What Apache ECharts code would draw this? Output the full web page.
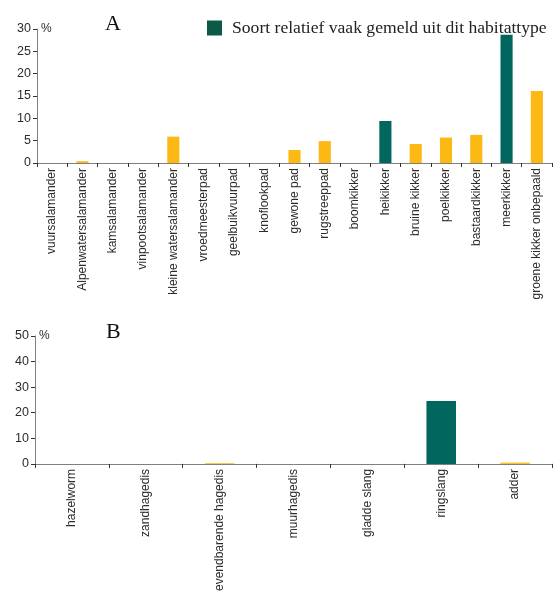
<!DOCTYPE html>
<html>
<head>
<meta charset="utf-8">
<script src="https://cdn.jsdelivr.net/npm/echarts@6/dist/echarts.min.js"></script>
<style>
  html, body { margin: 0; padding: 0; background: #fff; }
  #chart { width: 557px; height: 594px; }
</style>
</head>
<body>
<div id="chart"></div>
<script>
// Panel A: amphibians
const categoriesA = [
  'vuursalamander', 'Alpenwatersalamander', 'kamsalamander', 'vinpootsalamander',
  'kleine watersalamander', 'vroedmeesterpad', 'geelbuikvuurpad', 'knoflookpad',
  'gewone pad', 'rugstreeppad', 'boomkikker', 'heikikker', 'bruine kikker',
  'poelkikker', 'bastaardkikker', 'meerkikker', 'groene kikker onbepaald'
];
const valuesA = [0, 0.4, 0, 0, 5.9, 0, 0, 0, 2.9, 4.9, 0, 9.4, 4.25, 5.7, 6.3, 28.7, 16.1];
const frequentA = ['heikikker', 'meerkikker'];
const ticksA = { min: 0, max: 30, interval: 5 };

// Panel B: reptiles
const categoriesB = [
  'hazelworm', 'zandhagedis', 'evendbarende hagedis', 'muurhagedis',
  'gladde slang', 'ringslang', 'adder'
];
const valuesB = [0, 0, 0.3, 0, 0, 24.6, 0.5];
const frequentB = ['ringslang'];
const ticksB = { min: 0, max: 50, interval: 10 };

const legendLabel = 'Soort relatief vaak gemeld uit dit habitattype';
const otherLabel = 'overig';

const TEAL = '#00665e';
const TEAL_LEGEND = '#0b5a48';
const YELLOW = '#fdb913';
const AXIS = '#7f7f7f';
const TEXT = '#2b2b2b';
const SANS = '"Liberation Sans", Arial, sans-serif';
const SERIF = '"Liberation Serif", "Times New Roman", serif';

function splitSeries(cats, vals, frequent) {
  const freq = cats.map((c, i) => frequent.includes(c) ? vals[i] : '-');
  const rest = cats.map((c, i) => frequent.includes(c) ? '-' : vals[i]);
  return { freq, rest };
}

function xAxisFor(gridIndex, cats) {
  return {
    type: 'category',
    gridIndex,
    data: cats,
    axisLine: { lineStyle: { color: AXIS, width: 1 } },
    axisTick: { show: true, length: 4, lineStyle: { color: '#333' } },
    axisLabel: {
      interval: 0, rotate: 90, margin: 5,
      color: TEXT, fontFamily: SANS, fontSize: 12
    }
  };
}

function yAxisFor(gridIndex, t) {
  return {
    type: 'value',
    gridIndex,
    min: t.min, max: t.max, interval: t.interval,
    name: '%',
    nameLocation: 'end',
    nameGap: 0,
    nameTextStyle: {
      color: TEXT, fontFamily: SANS, fontSize: 12,
      align: 'left', verticalAlign: 'middle', padding: [0, 0, 0, 4]
    },
    splitLine: { show: false },
    axisLine: { show: true, lineStyle: { color: AXIS, width: 1 } },
    axisTick: { show: true, length: 4, lineStyle: { color: '#333' } },
    axisLabel: { margin: 6, color: TEXT, fontFamily: SANS, fontSize: 12.5 }
  };
}

function barsFor(idx, split) {
  const common = {
    type: 'bar', xAxisIndex: idx, yAxisIndex: idx,
    stack: 'panel' + idx, barCategoryGap: '60%', animation: false
  };
  return [
    Object.assign({}, common, { name: legendLabel, data: split.freq, itemStyle: { color: TEAL } }),
    Object.assign({}, common, { name: otherLabel, data: split.rest, itemStyle: { color: YELLOW } })
  ];
}

const splitA = splitSeries(categoriesA, valuesA, frequentA);
const splitB = splitSeries(categoriesB, valuesB, frequentB);

const chart = echarts.init(document.getElementById('chart'), null, { renderer: 'canvas' });
chart.setOption({
  backgroundColor: '#ffffff',
  animation: false,
  title: [
    { text: 'A', left: 100, top: 8, textStyle: { fontFamily: SERIF, fontSize: 22, fontWeight: 'normal', color: '#111' } },
    { text: 'B', left: 101, top: 316, textStyle: { fontFamily: SERIF, fontSize: 22, fontWeight: 'normal', color: '#111' } }
  ],
  legend: {
    left: 202, top: 14,
    itemWidth: 15, itemHeight: 15,
    data: [{ name: legendLabel, icon: 'rect', itemStyle: { color: TEAL_LEGEND } }],
    textStyle: { fontFamily: SERIF, fontSize: 17.6, color: '#222', padding: [0, 0, 0, 5] },
    selectedMode: false
  },
  grid: [
    { left: 37, top: 29, width: 515, height: 134 },
    { left: 35, top: 336, width: 517, height: 135 }
  ],
  xAxis: [xAxisFor(0, categoriesA), xAxisFor(1, categoriesB)],
  yAxis: [yAxisFor(0, ticksA), yAxisFor(1, ticksB)],
  series: [...barsFor(0, splitA), ...barsFor(1, splitB)]
});
</script>
</body>
</html>
